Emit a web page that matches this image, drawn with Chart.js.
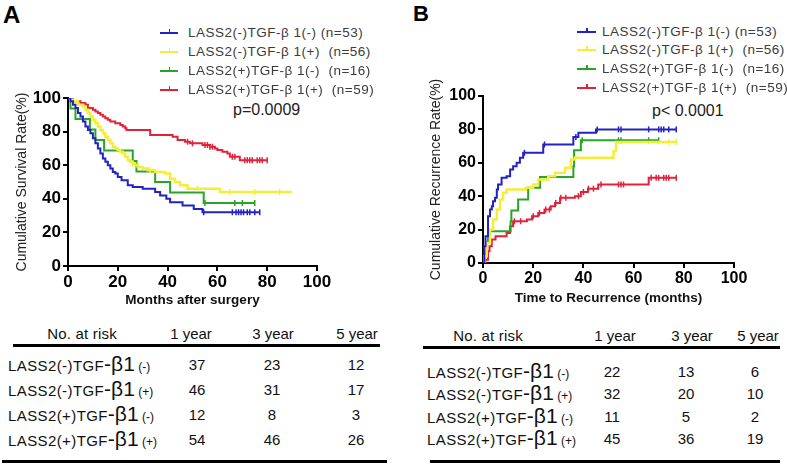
<!DOCTYPE html>
<html>
<head>
<meta charset="utf-8">
<script src="https://cdn.jsdelivr.net/npm/chart.js@4.4.0/dist/chart.umd.min.js"></script>
<style>
body{margin:0;background:#fff;width:787px;height:465px;position:relative;overflow:hidden;font-family:'Liberation Sans',Arial,sans-serif;}
.t{position:absolute;white-space:pre;line-height:1.15;}
canvas{position:absolute;}
</style>
</head>
<body>
<div class="t" style="left:3px;top:1px;font-size:24px;font-weight:bold;">A</div>
<div class="t" style="left:413px;top:1px;font-size:22px;font-weight:bold;">B</div>
<div class="t" style="left:233px;top:110px;font-size:16px;color:#222;transform:translateY(-50%);">p=0.0009</div>
<div class="t" style="left:652px;top:111px;font-size:16px;color:#222;transform:translateY(-50%);">p&lt; 0.0001</div>
<canvas id="chartA" width="335" height="245" style="left:0;top:70px"></canvas>
<canvas id="chartB" width="345" height="245" style="left:410px;top:70px"></canvas>
<script>
// groups: 1 = LASS2(-)TGF-β1(-), 2 = LASS2(-)TGF-β1(+), 3 = LASS2(+)TGF-β1(-), 4 = LASS2(+)TGF-β1(+)
const groupLabels = ['LASS2(-)TGF-β 1(-) (n=53)', 'LASS2(-)TGF-β 1(+)  (n=56)', 'LASS2(+)TGF-β 1(-)  (n=16)', 'LASS2(+)TGF-β 1(+)  (n=59)'];
const groupColors = ['#2323c4', '#f4ee3a', '#27a527', '#e1223a'];
const axisTicks = [0, 20, 40, 60, 80, 100];

// A: survival (%), step times in months
const os1T = [0, 1, 2, 3, 4, 5, 6, 7, 8, 9, 10, 11, 12, 13, 14, 15, 16, 17, 18, 19, 20, 21.5, 24, 26, 30, 35, 37, 39.5, 41, 46, 50.5, 54, 77];
const os1V = [100, 98, 96, 94, 91, 89, 86, 83, 81, 79, 76, 73, 70, 67, 64, 62, 60, 58, 56, 55, 53, 51, 48, 47, 46, 44, 42, 40, 38, 36, 34, 32, 32];
const os1C = [54.5, 66, 67.5, 68.5, 69.5, 70.5, 72, 73, 75, 77];
const os2T = [0, 1, 2, 4, 6, 7, 8, 9, 10, 11, 12, 13, 14, 15, 16, 17, 18, 19, 20, 21, 22, 23, 24, 25, 26, 27, 28, 30, 32, 35, 39, 41, 43, 45, 48, 61, 90];
const os2V = [100, 99, 98, 96, 95, 93, 91, 89, 87, 85, 83, 81, 79, 77, 75, 73, 71, 70, 69, 68, 67, 65, 63, 62, 61, 60, 59, 58, 57, 56, 55, 52, 50, 48, 46, 44, 44];
const os2C = [26, 33, 52, 65, 75, 85];
const os3T = [0, 1, 3, 8.8, 11, 14.5, 26, 27.5, 35, 41, 54.5, 75];
const os3V = [100, 93.75, 87.5, 81.25, 75, 68.75, 62.5, 56.25, 50, 43.75, 37.5, 37.5];
const os3C = [55, 67, 70, 75];
const os4T = [0, 2, 5, 7, 8, 10, 11, 12, 13, 14, 15, 16, 17, 19, 21, 22, 23, 23.5, 33, 42, 44, 47, 49, 54, 57, 59, 60, 62, 64, 65, 69, 80];
const os4V = [100, 98, 97, 96, 94, 93, 92, 91, 90, 89, 88, 87, 86, 85, 84, 83, 82, 81, 78, 77, 75, 74, 73, 72, 71, 70, 69, 68, 67, 65, 63, 63];
const os4C = [48, 50, 55, 56, 57, 58, 66, 67, 71, 72, 73, 74, 76, 77, 78, 80];

// B: recurrence (%), step times in months
const rc1T = [0, 0.5, 1, 2, 2.8, 3.5, 4, 4.8, 5.5, 6, 7.4, 9.4, 10.8, 12, 13.4, 14.7, 16, 24, 36, 38, 45, 77];
const rc1V = [0, 10, 16, 28, 32, 34, 37, 39, 44, 47, 51, 52, 56, 58, 60, 63, 66, 71, 75.5, 78, 80, 80];
const rc1C = [16.5, 24.5, 37, 45.5, 54, 55, 66, 70, 71, 72, 74, 77];
const rc2T = [0, 0.5, 1.5, 2.8, 4, 5.5, 6.8, 8, 9.4, 17, 20, 22, 26, 28.7, 32.7, 35, 36.6, 50, 52, 53, 77];
const rc2V = [0, 4, 12, 20, 26, 32, 38, 42, 44, 45, 47, 50, 52, 54, 57, 62, 63, 63, 67, 72.5, 72.5];
const rc2C = [74, 77];
const rc3T = [0, 0.8, 1.3, 2, 11, 11.3, 14, 18, 22.7, 36, 36.3, 39, 70];
const rc3V = [0, 6, 12.5, 19, 25, 31.5, 38, 45, 51.5, 58, 67.5, 73.5, 73.5];
const rc3C = [39.5, 54, 55, 66, 70];
const rc4T = [0, 1, 2, 2.6, 3.5, 5, 9.4, 10.8, 12, 17.5, 19.5, 22, 24.5, 27, 28.7, 30.7, 36.6, 39, 41.8, 45.9, 65.5, 66, 77];
const rc4V = [0, 2, 7, 10, 14, 16, 18, 22, 25, 26, 28, 30, 32, 34, 36, 39, 40, 42.5, 44.5, 47, 47, 51, 51];
const rc4C = [12.5, 15, 20, 22.5, 25, 26.5, 29, 31, 33, 38, 40, 42, 44, 47, 54, 55, 56, 67, 69, 70, 72, 73, 74, 77];

// risk tables
const riskYears = ['1 year', '3 year', '5 year'];
const rowPrefix = ['LASS2(-)TGF', 'LASS2(-)TGF', 'LASS2(+)TGF', 'LASS2(+)TGF'];
const rowSuffix = ['(-)', '(+)', '(-)', '(+)'];
const osRisk = [[37, 23, 12], [46, 31, 17], [12, 8, 3], [54, 46, 26]];
const rcRisk = [[22, 13, 6], [32, 20, 10], [11, 5, 2], [45, 36, 19]];

Chart.defaults.font.family = "'Liberation Sans', Arial, sans-serif";
Chart.defaults.color = '#000';

function stepAt(T, V, t) {
  let v = V[0];
  for (let i = 0; i < T.length; i++) { if (T[i] <= t) v = V[i]; }
  return v;
}

function kmSets(times, vals, cens) {
  const sets = [];
  for (let g = 0; g < 4; g++) {
    sets.push({
      type: 'line',
      data: times[g].map((t, i) => ({x: t, y: vals[g][i]})),
      stepped: true,
      borderColor: groupColors[g],
      borderWidth: g === 1 ? 2.5 : 2,
      pointRadius: 0,
      fill: false
    });
    sets.push({
      type: 'scatter',
      data: cens[g].map(t => ({x: t, y: stepAt(times[g], vals[g], t)})),
      pointStyle: 'line',
      rotation: 90,
      pointRadius: 3,
      borderWidth: 1.5,
      borderColor: groupColors[g],
      backgroundColor: groupColors[g]
    });
  }
  return sets;
}

function axes(o) {
  const tickFont = {size: o.tick, weight: 'bold'};
  const grid = {drawOnChartArea: false, drawTicks: true, tickLength: 5, color: '#000', lineWidth: 2};
  return {
    x: {
      type: 'linear', min: 0, max: 100,
      afterBuildTicks: s => { s.ticks = axisTicks.map(v => ({value: v})); },
      ticks: {font: tickFont, color: '#000', padding: 1, maxRotation: 0},
      grid: grid,
      border: {color: '#000', width: 2},
      title: {display: true, text: o.xTitle, color: '#111', font: {size: 13.5, weight: 'bold'}, padding: {top: 0, bottom: o.xPad}},
      afterFit: s => { s.height = o.xH; s.paddingLeft = 0; s.paddingRight = 0; }
    },
    y: {
      type: 'linear', min: 0, max: 100,
      afterBuildTicks: s => { s.ticks = axisTicks.map(v => ({value: v})); },
      ticks: {font: tickFont, color: '#000', padding: 2},
      grid: grid,
      border: {color: '#000', width: 2},
      title: {display: true, text: o.yTitle, color: '#222', font: {size: 14}, padding: {top: o.yPad, bottom: 0}},
      afterFit: s => { s.width = o.yW; s.paddingTop = 0; s.paddingBottom = 0; }
    }
  };
}

function makeChart(id, sets, pad, o) {
  return new Chart(document.getElementById(id), {
    type: 'line',
    data: {datasets: sets},
    options: {
      responsive: false,
      animation: false,
      events: [],
      layout: {padding: pad},
      plugins: {legend: {display: false}, tooltip: {enabled: false}},
      scales: axes(o)
    }
  });
}

makeChart('chartA',
  kmSets([os1T, os2T, os3T, os4T], [os1V, os2V, os3V, os4V], [os1C, os2C, os3C, os4C]),
  {left: 0, top: 28, right: 18, bottom: 0},
  {tick: 17, xTitle: 'Months after surgery', yTitle: 'Cumulative Survival Rate(%)', xH: 49, yW: 68, xPad: 7, yPad: 14});

makeChart('chartB',
  kmSets([rc1T, rc2T, rc3T, rc4T], [rc1V, rc2V, rc3V, rc4V], [rc1C, rc2C, rc3C, rc4C]),
  {left: 0, top: 26, right: 21, bottom: 0},
  {tick: 16, xTitle: 'Time to Recurrence (months)', yTitle: 'Cumulative Recurrence Rate(%)', xH: 52, yW: 73, xPad: 9, yPad: 17.5});

// html text helpers
function addText(txt, x, y, size, center, color) {
  const d = document.createElement('div');
  d.className = 't';
  d.textContent = txt;
  d.style.left = x + 'px';
  d.style.top = y + 'px';
  d.style.fontSize = size + 'px';
  d.style.color = color || '#111';
  d.style.transform = center ? 'translate(-50%,-50%)' : 'translateY(-50%)';
  document.body.appendChild(d);
  return d;
}
function addBox(x, y, w, h, color) {
  const d = document.createElement('div');
  d.style.cssText = 'position:absolute;left:' + x + 'px;top:' + y + 'px;width:' + w + 'px;height:' + h + 'px;background:' + color;
  document.body.appendChild(d);
}

function buildLegend(L) {
  groupLabels.forEach((lab, g) => {
    const y = L.rows[g];
    addBox(L.x, y - 1, L.w, 2, groupColors[g]);
    addBox(L.x + L.w / 2 - 0.5, y - 4, 1.5, 4, groupColors[g]);
    addText(lab, L.tx, y, 13.5, false, '#3c3c3c').style.letterSpacing = '0.5px';
  });
}

function buildTable(risk, L) {
  addText('No. at risk', L.headX[0], L.headY, 15, true).style.letterSpacing = '0.2px';
  riskYears.forEach((yr, i) => addText(yr, L.headX[i + 1], L.headY, 15, true));
  addBox(L.rule1[0], L.rule1Y, L.rule1[1] - L.rule1[0], 3, '#000');
  rowPrefix.forEach((p, r) => {
    const d = addText('', L.labelX, L.rowY[r], 15, false);
    d.style.letterSpacing = '0.4px';
    d.style.lineHeight = '20px';
    d.innerHTML = p + '<span style="font-size:21px;letter-spacing:0">-β1</span><span style="font-size:12px;letter-spacing:0"> ' + rowSuffix[r] + '</span>';
    risk[r].forEach((n, c) => addText(String(n), L.numX[c], L.rowY[r], 15, true));
  });
  addBox(L.rule2[0], L.rule2Y, L.rule2[1] - L.rule2[0], 3, '#000');
}

buildLegend({x: 160, w: 18, tx: 188, rows: [33, 52, 71, 90]});
buildLegend({x: 577, w: 19, tx: 602, rows: [32, 50, 69, 88]});

buildTable(osRisk, {headX: [82, 191, 273, 357], headY: 334, rule1: [13, 380], rule1Y: 344,
  labelX: 8, rowY: [365, 390, 415, 440], numX: [197, 272, 356], rule2: [2, 387], rule2Y: 460});
buildTable(rcRisk, {headX: [488, 615, 692, 758], headY: 336, rule1: [423, 780], rule1Y: 346,
  labelX: 427, rowY: [372, 394, 417, 439], numX: [612, 686, 755], rule2: [430, 780], rule2Y: 460});
</script>
</body>
</html>
